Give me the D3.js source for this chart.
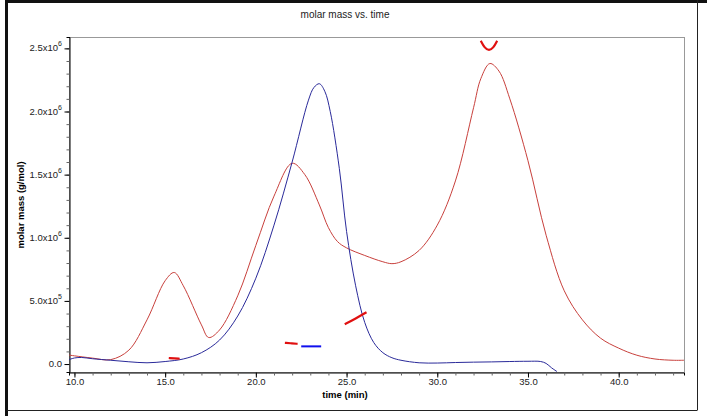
<!DOCTYPE html>
<html><head><meta charset="utf-8">
<script src="https://cdn.jsdelivr.net/npm/d3@7"></script>
<style>body{margin:0;background:#fff}svg{display:block}text{font-family:"Liberation Sans",Arial,sans-serif}</style>
</head><body>
<script>
// ---- data ----
const redTime = [9.7,10,11,12,13,14,15,15.5,16,17,17.4,18,19,20,21,22,22.7,23.5,24,24.5,25,26,27,27.5,28,29,30,31,32,32.4,32.9,33.4,34,35,36,37,38,39,40,41,42,43,43.6];
const redVal  = [0.71e5,0.65e5,0.47e5,0.35e5,1.1e5,3.5e5,6.6e5,7.25e5,6.2e5,3.1e5,2.1e5,2.7e5,5.4e5,9.4e5,13.3e5,15.9e5,15.0e5,12.6e5,10.8e5,9.7e5,9.2e5,8.6e5,8.1e5,7.95e5,8.1e5,9.0e5,11e5,14.5e5,20.3e5,22.6e5,23.8e5,23.2e5,21.0e5,16.1e5,10.2e5,5.8e5,3.5e5,2.05e5,1.26e5,0.7e5,0.4e5,0.3e5,0.3e5];
const blueTime = [9.7,10,10.4,11,12,13,14,15,16,17,18,19,20,21,22,22.9,23.2,23.5,23.8,24.1,24.6,25,25.5,26,26.5,27,27.5,28,29,30,31,32,33,34,35,35.7,36,36.3,36.6];
const blueVal  = [0.35e5,0.48e5,0.52e5,0.42e5,0.3e5,0.18e5,0.1e5,0.2e5,0.4e5,0.9e5,1.9e5,3.8e5,6.8e5,11e5,16e5,20.9e5,21.9e5,22.2e5,21.6e5,20.0e5,15.5e5,10.5e5,6.2e5,3.3e5,1.7e5,0.9e5,0.5e5,0.3e5,0.1e5,0.08e5,0.12e5,0.15e5,0.17e5,0.2e5,0.22e5,0.2e5,0.05e5,-0.3e5,-0.6e5];
const mmRed = [
  {t:[15.2,15.5,15.8], v:[0.48e5,0.45e5,0.42e5]},
  {t:[21.6,22.0,22.3], v:[1.68e5,1.64e5,1.6e5]},
  {t:[24.9,25.5,26.1], v:[3.15e5,3.6e5,4.1e5]},
  {t:[32.4,32.6,32.85,33.1,33.3], v:[2.56e6,2.505e6,2.48e6,2.505e6,2.56e6]}
];
const mmBlue = [{t:[22.5,23.6], v:[1.4e5,1.4e5]}];
const xTicks = [10,15,20,25,30,35,40];
const yTickMant = ["0.0","5.0x10","1.0x10","1.5x10","2.0x10","2.5x10"];
const yTickExp  = ["","5","6","6","6","6"];
const yTicks = [0,5e5,1e6,1.5e6,2e6,2.5e6];

const W=707,H=416;
const svg=d3.select("body").append("svg").attr("width",W).attr("height",H);
const L=69,R=684,T=37,B=372;
const x=d3.scaleLinear().domain([9.7,43.6]).range([L,R]);
const y=d3.scaleLinear().domain([-0.63e5,2.59e6]).range([B,T]);

// outer frame
svg.append("rect").attr("x",5).attr("y",0).attr("width",3).attr("height",H).attr("fill","#111");
svg.append("rect").attr("x",5).attr("y",0).attr("width",W-5).attr("height",3).attr("fill","#111");
svg.append("line").attr("x1",697.5).attr("x2",697.5).attr("y1",0).attr("y2",410).attr("stroke","#222");
svg.append("line").attr("x1",7).attr("x2",697.5).attr("y1",410.5).attr("y2",410.5).attr("stroke","#222");

svg.append("text").attr("x",345).attr("y",18).attr("text-anchor","middle").attr("font-size",10).attr("fill","#222").text("molar mass vs. time");

// plot box
svg.append("rect").attr("x",L+0.5).attr("y",T+0.5).attr("width",R-L).attr("height",B-T).attr("fill","none").attr("stroke","#999");

svg.append("clipPath").attr("id","c").append("rect").attr("x",L).attr("y",T).attr("width",R-L).attr("height",B-T);

// axes
const xa=svg.append("g").attr("transform",`translate(0,${B+0.5})`)
  .call(d3.axisBottom(x).tickValues(d3.range(10,44,1)).tickSize(3).tickFormat(""));
xa.select(".domain").attr("stroke","#000");
xa.selectAll(".tick line").attr("stroke","#666");
const xb=svg.append("g").attr("transform",`translate(0,${B+0.5})`)
  .call(d3.axisBottom(x).tickValues(xTicks).tickSize(5).tickPadding(1).tickFormat(d=>d.toFixed(1)));
xb.select(".domain").remove();
xb.selectAll(".tick text").attr("font-size",9.5).attr("fill","#222").attr("font-family","Liberation Sans");

const ya=svg.append("g").attr("transform",`translate(${L+0.5},0)`)
  .call(d3.axisLeft(y).tickValues(d3.range(0,2.6e6,1e5)).tickSize(3).tickFormat(""));
ya.select(".domain").attr("stroke","#000");
ya.selectAll(".tick line").attr("stroke","#666");
const yb=svg.append("g").attr("transform",`translate(${L+0.5},0)`)
  .call(d3.axisLeft(y).tickValues(yTicks).tickSize(5).tickFormat(""));
yb.select(".domain").remove();
yTicks.forEach((v,i)=>{
  const t=svg.append("text").attr("x",L-7).attr("y",y(v)+3).attr("text-anchor","end").attr("font-size",9.5).attr("fill","#222");
  t.append("tspan").text(yTickMant[i]);
  if(yTickExp[i]) t.append("tspan").attr("dy",-5).attr("font-size",7).text(yTickExp[i]);
});

svg.append("text").attr("x",345).attr("y",398).attr("text-anchor","middle").attr("font-size",9.5).attr("font-weight","bold").text("time (min)");
svg.append("text").attr("transform","translate(24,205) rotate(-90)").attr("text-anchor","middle").attr("font-size",9.5).attr("font-weight","bold").text("molar mass (g/mol)");

const g=svg.append("g").attr("clip-path","url(#c)");
const line=d3.line().x(d=>x(d[0])).y(d=>y(d[1])).curve(d3.curveCatmullRom.alpha(0.5));
g.append("path").attr("d",line(redTime.map((t,i)=>[t,redVal[i]]))).attr("fill","none").attr("stroke","#c8403c").attr("stroke-width",1);
g.append("path").attr("d",line(blueTime.map((t,i)=>[t,blueVal[i]]))).attr("fill","none").attr("stroke","#2a2a9a").attr("stroke-width",1);
const line2=d3.line().x(d=>x(d[0])).y(d=>y(d[1])).curve(d3.curveBasis);
mmRed.forEach(s=>g.append("path").attr("d",line2(s.t.map((t,i)=>[t,s.v[i]]))).attr("fill","none").attr("stroke","#e01010").attr("stroke-width",2.2));
mmBlue.forEach(s=>g.append("path").attr("d",line2(s.t.map((t,i)=>[t,s.v[i]]))).attr("fill","none").attr("stroke","#1010ee").attr("stroke-width",2));
</script>
</body></html>
